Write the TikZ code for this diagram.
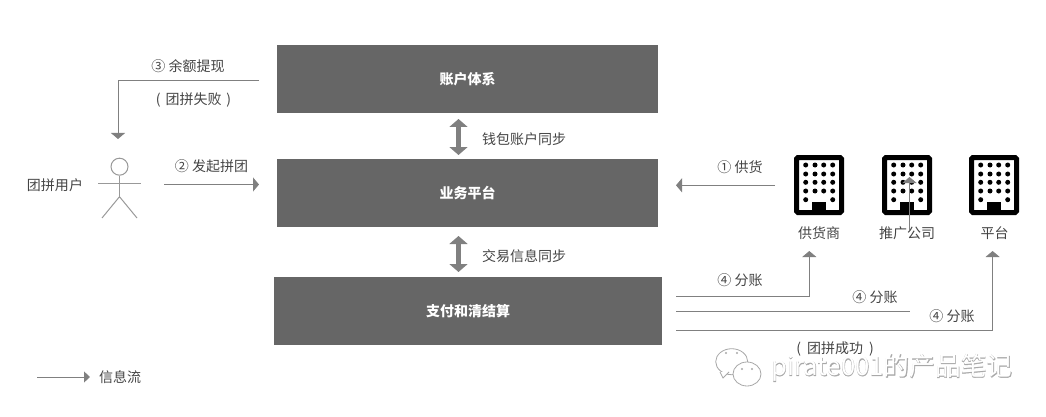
\documentclass[tikz,border=0pt]{standalone}
\usepackage{fontspec}
\setmainfont{Noto Sans CJK SC}
\newfontfamily\wmbold[FakeBold=1.8]{Noto Sans CJK SC}
\usetikzlibrary{arrows.meta}
\definecolor{boxgray}{HTML}{666666}
\definecolor{linegray}{HTML}{808080}
\definecolor{txtgray}{HTML}{444444}
\definecolor{wmgray}{HTML}{A8A8A8}
\tikzset{
  x=1pt,y=-1pt,
  bar/.style={fill=boxgray,text=white,font=\fontsize{14}{14}\selectfont\bfseries,inner sep=0pt,anchor=north west},
  flow/.style={draw=linegray,line width=1pt,-{Triangle[length=6pt,width=14pt]}},
  plainflow/.style={draw=linegray,line width=1pt},
  sync/.style={draw=linegray,line width=5pt,{Triangle[length=8pt,width=18pt]}-{Triangle[length=8pt,width=18pt]}},
  lbl/.style={text=txtgray,font=\fontsize{14}{14}\selectfont,inner sep=0pt},
  actor/.style={draw=linegray!80,line width=1pt},
  bldg/.style={draw=black,line width=5pt,rounded corners=1.5pt,minimum width=45pt,minimum height=55pt,inner sep=0pt,fill=white,anchor=north west},
  wm/.style={draw=wmgray,line width=0.8pt,fill=white}
}
\newcommand{\bldgicon}[2]{%
  \node[bldg] (#1) at (#2-2.5,155) {};
  \foreach \dy in {165,174,182.3,191}{
    \foreach \dx in {11.7,21,29.7,38.7}{
      \fill (#2-2.5+\dx,\dy) circle (2.5);
    }
  }
  \fill (#2-2.5+11.7,199.7) circle (2.5);
  \fill (#2-2.5+38.7,199.7) circle (2.5);
  \fill (#2-2.5+18.3,202) rectangle (#2-2.5+31.7,212);
}
\begin{document}
\begin{tikzpicture}
\useasboundingbox (0,0) rectangle (1046,417);
% bars
\node[bar,minimum width=381pt,minimum height=68pt] (acct) at (277,45) {账户体系};
\node[bar,minimum width=381pt,minimum height=68pt] (biz) at (277,159) {业务平台};
\node[bar,minimum width=388pt,minimum height=68pt] (pay) at (274,277) {支付和清结算};
% sync arrows
\coordinate (s1a) at (458.5,119); \coordinate (s1b) at (458.5,155);
\coordinate (s2a) at (458.5,236); \coordinate (s2b) at (458.5,272);
\draw[sync] (s1a) -- (s1b);
\draw[sync] (s2a) -- (s2b);
\node[lbl,anchor=west] (l1) at (482,139.5) {钱包账户同步};
\node[lbl,anchor=west] (l2) at (482,256.5) {交易信息同步};
% actor
\node[draw=linegray!80,line width=1pt,circle,minimum size=17pt,inner sep=0pt] (head) at (119.5,166.7) {};
\coordinate (hip) at (119.5,196.7);
\coordinate (armL) at (98,183.7); \coordinate (armR) at (141,183.7);
\coordinate (legL) at (102,218); \coordinate (legR) at (137,218);
\draw[actor] (head.south) -- (hip);
\draw[actor] (armL) -- (armR);
\draw[actor] (legL) -- (hip) -- (legR);
\node[lbl] (user) at (55,185.5) {团拼用户};
% left flows
\coordinate (f3s) at (259,80.5); \coordinate (f3t) at (118,139);
\draw[flow] (f3s) -| (f3t);
\node[lbl] (t3) at (188,66) {③ 余额提现};
\node[lbl] (t3b) at (193.5,99.5) {(\hspace{5pt}团拼失败\hspace{5pt})};
\coordinate (f2s) at (164,184.5); \coordinate (f2t) at (259,184.5);
\draw[flow] (f2s) -- (f2t);
\node[lbl] (t2) at (211.5,166.5) {② 发起拼团};
% buildings
\bldgicon{b1}{796.5}
\bldgicon{b2}{884.5}
\bldgicon{b3}{971.5}
\node[lbl] (n1) at (819,233.5) {供货商};
\node[lbl] (n2) at (907,233.5) {推广公司};
\node[lbl] (n3) at (994.5,233.5) {平台};
% right flows
\coordinate (f1s) at (775,185.3); \coordinate (f1t) at (676,185.3);
\draw[flow] (f1s) -- (f1t);
\node[lbl] (t1) at (740,167) {① 供货};
\coordinate (p1) at (676,296.3); \coordinate (q1) at (809.3,251);
\draw[flow] (p1) -| (q1);
\coordinate (p2) at (676,311.3); \coordinate (q2) at (910,311.3);
\draw[plainflow] (p2) -- (q2);
\coordinate (v2a) at (909.5,230); \coordinate (v2b) at (909.5,177);
\draw[flow] (v2a) -- (v2b);
\coordinate (p3) at (676,330.3); \coordinate (q3) at (992.6,251);
\draw[flow] (p3) -| (q3);
\node[lbl] (t41) at (740,280.5) {④ 分账};
\node[lbl] (t42) at (875,297.5) {④ 分账};
\node[lbl] (t43) at (952,316.5) {④ 分账};
\node[lbl] (t5) at (835,348.5) {(\hspace{6pt}团拼成功\hspace{6pt})};
% legend
\coordinate (ls) at (37,377); \coordinate (lt) at (90,377);
\draw[draw=linegray,line width=1pt,-{Triangle[length=6pt,width=11pt]}] (ls) -- (lt);
\node[lbl,anchor=west] (lg) at (99,377.5) {信息流};
% watermark
\draw[wm] (731.7,361.7) ellipse (16 and 13);
\draw[wm] (720,372) -- (723,378) -- (729,372);
\draw[wm] (747,374) ellipse (14 and 12);
\fill[wmgray] (726,353) circle (1.1) (737,353) circle (1.1) (742,369) circle (1.1) (752,369) circle (1.1);
\node[inner sep=0pt,anchor=west,text=wmgray,font=\wmbold\fontsize{25.7}{26}\selectfont] (wm1) at (771,368) {pirate001的产品笔记};
\node[inner sep=0pt,anchor=west,text=white,font=\fontsize{25.7}{26}\selectfont] (wm2) at (771,368) {pirate001的产品笔记};
\end{tikzpicture}
\end{document}
